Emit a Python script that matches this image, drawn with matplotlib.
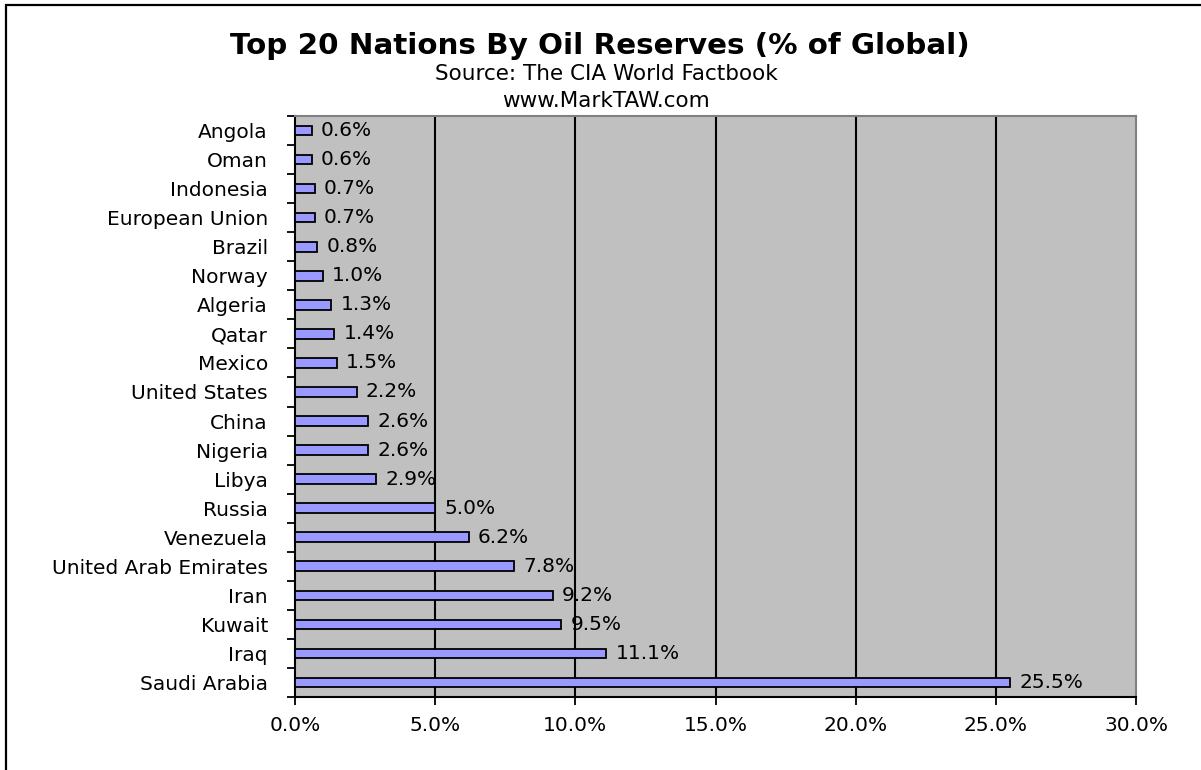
import matplotlib.pyplot as plt
import numpy as np
from matplotlib.patches import Rectangle
from matplotlib.ticker import FixedLocator, FuncFormatter

# Dados (de cima para baixo)
nations = ['Angola', 'Oman', 'Indonesia', 'European Union', 'Brazil', 'Norway',
           'Algeria', 'Qatar', 'Mexico', 'United States', 'China', 'Nigeria',
           'Libya', 'Russia', 'Venezuela', 'United Arab Emirates', 'Iran',
           'Kuwait', 'Iraq', 'Saudi Arabia']
reserves = [0.6, 0.6, 0.7, 0.7, 0.8, 1.0, 1.3, 1.4, 1.5, 2.2, 2.6, 2.6,
            2.9, 5.0, 6.2, 7.8, 9.2, 9.5, 11.1, 25.5]
x_ticks = [0, 5, 10, 15, 20, 25, 30]

title = 'Top 20 Nations By Oil Reserves (% of Global)'
source = 'Source: The CIA World Factbook'
site = 'www.MarkTAW.com'

fs = 14.5

fig = plt.figure(figsize=(12.01, 7.70), dpi=100)
ax = fig.add_axes([295 / 1201, 1 - 697 / 770, 841 / 1201, 581 / 770])

# Borda da figura (so topo e esquerda visiveis)
fig.patches.append(Rectangle((6 / 1201, -0.1), 1.2, 1.1 - 5 / 770,
                             transform=fig.transFigure, fill=False,
                             edgecolor='black', linewidth=1.6))

y = np.arange(len(nations))
ax.set_facecolor('#C0C0C0')
ax.barh(y, reserves, height=0.33, color='#9999FF', edgecolor='black',
        linewidth=1.3, zorder=3)

for yi, v in zip(y, reserves):
    ax.text(v + 0.33, yi, f'{v:.1f}%', va='center', ha='left',
            fontsize=fs, family='DejaVu Sans', zorder=4)

ax.set_xlim(0, 30)
ax.set_ylim(len(nations) - 0.5, -0.5)

# Grade vertical
for t in x_ticks[1:-1]:
    ax.axvline(t, color='black', linewidth=1.5, zorder=2)

ax.set_xticks(x_ticks)
ax.xaxis.set_major_formatter(FuncFormatter(lambda v, p: f'{v:.1f}%'))
ax.tick_params(axis='x', direction='out', length=6, width=1.3, pad=8,
               labelsize=fs)

ax.set_yticks(y)
ax.set_yticklabels(nations)
ax.yaxis.set_minor_locator(FixedLocator(np.arange(-0.5, len(nations), 1)))
ax.tick_params(axis='y', which='major', length=0, pad=19.5, labelsize=fs)
ax.tick_params(axis='y', which='minor', direction='out', length=6, width=1.3)

for lab in ax.get_xticklabels() + ax.get_yticklabels():
    lab.set_family('DejaVu Sans')

ax.spines['left'].set_color('black')
ax.spines['left'].set_linewidth(1.5)
ax.spines['bottom'].set_color('black')
ax.spines['bottom'].set_linewidth(1.5)
ax.spines['top'].set_color('#808080')
ax.spines['right'].set_color('#808080')
ax.spines['top'].set_linewidth(1.5)
ax.spines['right'].set_linewidth(1.5)

# Titulos
fig.text(600 / 1201, 1 - 46 / 770, title, ha='center', va='center',
         fontsize=21.2, fontweight='bold', family='DejaVu Sans')
fig.text(606 / 1201, 1 - 74 / 770, source, ha='center', va='center',
         fontsize=15.5, family='DejaVu Sans')
fig.text(606 / 1201, 1 - 101 / 770, site, ha='center', va='center',
         fontsize=15.5, family='DejaVu Sans')

plt.savefig('out.png', dpi=100)
